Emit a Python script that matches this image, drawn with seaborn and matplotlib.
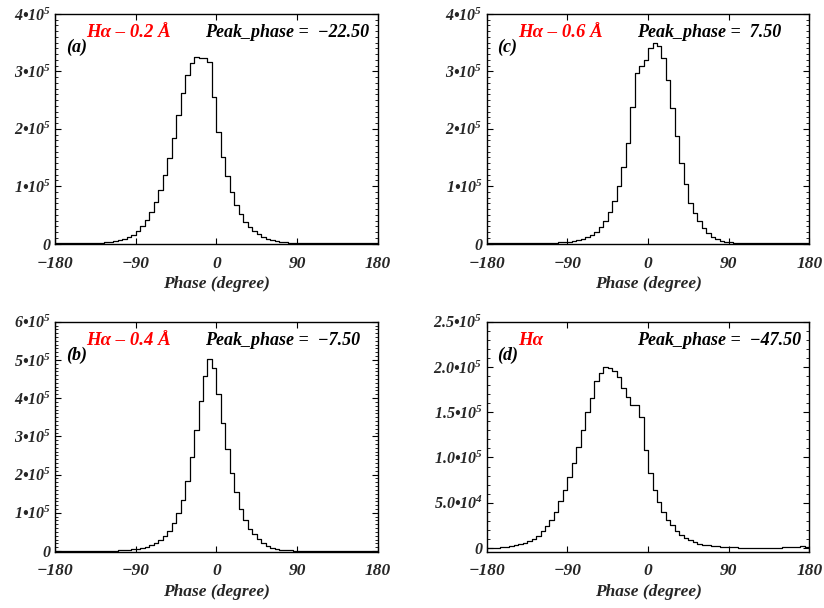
import numpy as np
import pandas as pd
import seaborn as sns
import matplotlib.pyplot as plt
from matplotlib.ticker import MultipleLocator

sns.set_theme(style="ticks")
plt.rcParams["font.family"] = ["Liberation Serif", "DejaVu Serif"]
plt.rcParams["font.weight"] = "bold"
plt.rcParams["font.style"] = "italic"
plt.rcParams["axes.labelweight"] = "bold"
plt.rcParams["mathtext.fontset"] = "custom"
plt.rcParams["mathtext.rm"] = "Liberation Serif:italic:bold"
plt.rcParams["mathtext.it"] = "Liberation Serif:italic:bold"
plt.rcParams["mathtext.bf"] = "Liberation Serif:italic:bold"
plt.rcParams["axes.unicode_minus"] = True

# 5-degree phase bins from -180 to 180
bin_width = 5
bin_centers = np.arange(-180, 180, bin_width) + bin_width / 2
scale = 1e5  # counts below are in units of 10^5

counts_a = [0.001, 0.001, 0.001, 0.001, 0.002, 0.003, 0.004, 0.006, 0.008, 0.011,
            0.015, 0.021, 0.030, 0.042, 0.060, 0.085, 0.118, 0.151, 0.226, 0.308,
            0.412, 0.551, 0.720, 0.934, 1.201, 1.497, 1.846, 2.240, 2.629, 2.943,
            3.151, 3.244, 3.238, 3.227, 3.157, 2.548, 1.950, 1.503, 1.172, 0.900,
            0.673, 0.517, 0.383, 0.284, 0.215, 0.163, 0.116, 0.081, 0.058, 0.040,
            0.028, 0.020, 0.014, 0.010, 0.007, 0.005, 0.004, 0.003, 0.003, 0.002,
            0.002, 0.002, 0.002, 0.002, 0.002, 0.002, 0.003, 0.003, 0.005, 0.009,
            0.018, 0.012]

counts_b = [0.001, 0.001, 0.001, 0.001, 0.001, 0.001, 0.002, 0.002, 0.003, 0.003,
            0.004, 0.006, 0.009, 0.012, 0.017, 0.024, 0.033, 0.045, 0.061, 0.087,
            0.114, 0.157, 0.210, 0.279, 0.384, 0.515, 0.734, 0.996, 1.328, 1.834,
            2.463, 3.162, 3.913, 4.576, 5.022, 4.777, 4.105, 3.354, 2.672, 2.044,
            1.537, 1.109, 0.803, 0.585, 0.437, 0.306, 0.210, 0.140, 0.087, 0.055,
            0.036, 0.024, 0.016, 0.011, 0.008, 0.006, 0.004, 0.003, 0.003, 0.002,
            0.002, 0.002, 0.002, 0.002, 0.002, 0.002, 0.002, 0.002, 0.003, 0.005,
            0.008, 0.006]

counts_c = [0.001, 0.001, 0.001, 0.001, 0.001, 0.001, 0.001, 0.001, 0.001, 0.002,
            0.003, 0.004, 0.005, 0.007, 0.010, 0.014, 0.019, 0.026, 0.035, 0.046,
            0.064, 0.087, 0.122, 0.157, 0.203, 0.296, 0.400, 0.557, 0.737, 1.004,
            1.341, 1.759, 2.374, 2.966, 3.093, 3.198, 3.401, 3.500, 3.442, 3.227,
            2.850, 2.356, 1.875, 1.410, 1.039, 0.714, 0.540, 0.395, 0.273, 0.192,
            0.122, 0.075, 0.046, 0.029, 0.019, 0.013, 0.009, 0.006, 0.004, 0.003,
            0.002, 0.002, 0.001, 0.001, 0.001, 0.001, 0.001, 0.001, 0.001, 0.001,
            0.001, 0.001]

counts_d = [0.002, 0.003, 0.005, 0.007, 0.015, 0.022, 0.033, 0.044, 0.059, 0.077,
            0.103, 0.136, 0.184, 0.239, 0.305, 0.401, 0.515, 0.636, 0.790, 0.938,
            1.121, 1.305, 1.500, 1.654, 1.849, 1.938, 1.996, 1.993, 1.956, 1.893,
            1.772, 1.665, 1.585, 1.578, 1.452, 1.085, 0.827, 0.643, 0.511, 0.397,
            0.313, 0.250, 0.191, 0.147, 0.110, 0.085, 0.063, 0.048, 0.036, 0.028,
            0.022, 0.017, 0.013, 0.010, 0.008, 0.006, 0.005, 0.004, 0.004, 0.003,
            0.003, 0.003, 0.003, 0.003, 0.004, 0.005, 0.006, 0.008, 0.011, 0.016,
            0.020, 0.016]

line_labels = ["H\u03b1 \u2013 0.2 \u00c5", "H\u03b1 \u2013 0.4 \u00c5",
               "H\u03b1 \u2013 0.6 \u00c5", "H\u03b1"]
panel_tags = ["(a)", "(b)", "(c)", "(d)"]

x_ticks = [-180, -90, 0, 90, 180]

y_ticks_a = [0, 1e5, 2e5, 3e5, 4e5]
y_labels_a = ["0", "1\u2022$10^{5}$", "2\u2022$10^{5}$", "3\u2022$10^{5}$", "4\u2022$10^{5}$"]
y_ticks_b = [0, 1e5, 2e5, 3e5, 4e5, 5e5, 6e5]
y_labels_b = ["0", "1\u2022$10^{5}$", "2\u2022$10^{5}$", "3\u2022$10^{5}$",
              "4\u2022$10^{5}$", "5\u2022$10^{5}$", "6\u2022$10^{5}$"]
y_ticks_d = [0, 5e4, 1e5, 1.5e5, 2e5, 2.5e5]
y_labels_d = ["0", "5.0\u2022$10^{4}$", "1.0\u2022$10^{5}$", "1.5\u2022$10^{5}$",
              "2.0\u2022$10^{5}$", "2.5\u2022$10^{5}$"]

panels = [
    # counts, label, tag, yticks, ylabels, ymax, ymin, axes rect
    (counts_a, line_labels[0], panel_tags[0], y_ticks_a, y_labels_a, 4e5, -1.5e3,
     [0.0667, 0.598, 0.392, 0.379]),
    (counts_b, line_labels[1], panel_tags[1], y_ticks_b, y_labels_b, 6e5, -2.5e3,
     [0.0667, 0.0921, 0.392, 0.3788]),
    (counts_c, line_labels[2], panel_tags[2], y_ticks_a, y_labels_a, 4e5, -1.5e3,
     [0.5907, 0.598, 0.3915, 0.379]),
    (counts_d, line_labels[3], panel_tags[3], y_ticks_d, y_labels_d, 2.5e5, -4.4e3,
     [0.5907, 0.0921, 0.3915, 0.3788]),
]

fig = plt.figure(figsize=(8.24, 6.08), dpi=100)

for counts, lab, tag, yt, yl, ymax, ymin, rect in panels:
    ax = fig.add_axes(rect)
    df = pd.DataFrame({"phase": bin_centers, "count": np.array(counts) * scale})
    sns.histplot(data=df, x="phase", weights="count", binwidth=bin_width,
                 binrange=(-180, 180), element="step", fill=False,
                 color="black", linewidth=0.9, ax=ax)
    ax.set_xlim(-180, 180)
    ax.set_ylim(ymin, ymax)
    ax.set_xticks(x_ticks)
    ax.set_xticklabels([f"{t}".replace("-", "\u2212") for t in x_ticks],
                       fontsize=12.5, fontweight="bold")
    ax.set_yticks(yt)
    ax.set_yticklabels(yl, fontsize=11.5, fontweight="bold")
    ax.yaxis.set_minor_locator(MultipleLocator(1e4))
    ax.tick_params(axis="x", which="major", direction="in", top=True, bottom=True,
                   length=4, width=0.8, pad=8, color="black")
    ax.tick_params(axis="y", which="major", direction="in", left=True, right=True,
                   length=4, width=0.8, pad=3, color="black")
    ax.tick_params(axis="y", which="minor", direction="in", left=True, right=True,
                   length=2, width=0.6, color="black")
    for s in ax.spines.values():
        s.set_color("black")
        s.set_linewidth(1.0)
    ax.set_xlabel("Phase (degree)", fontsize=12.5, fontweight="bold", labelpad=3.5)
    ax.set_ylabel("")

    peak = bin_centers[int(np.argmax(counts))]
    ax.text(0.098, 0.9, lab, transform=ax.transAxes, color="#ff0000",
            fontsize=13.5, fontweight="bold", ha="left", va="baseline")
    ax.text(0.466, 0.9, f"Peak_phase =  {peak:.2f}".replace("-", "\u2212"),
            transform=ax.transAxes, color="black", fontsize=13,
            fontweight="bold", ha="left", va="baseline")
    ax.text(0.033, 0.836, tag, transform=ax.transAxes, color="black",
            fontsize=13, fontweight="bold", ha="left", va="baseline")

fig.savefig("out.png", dpi=100)
